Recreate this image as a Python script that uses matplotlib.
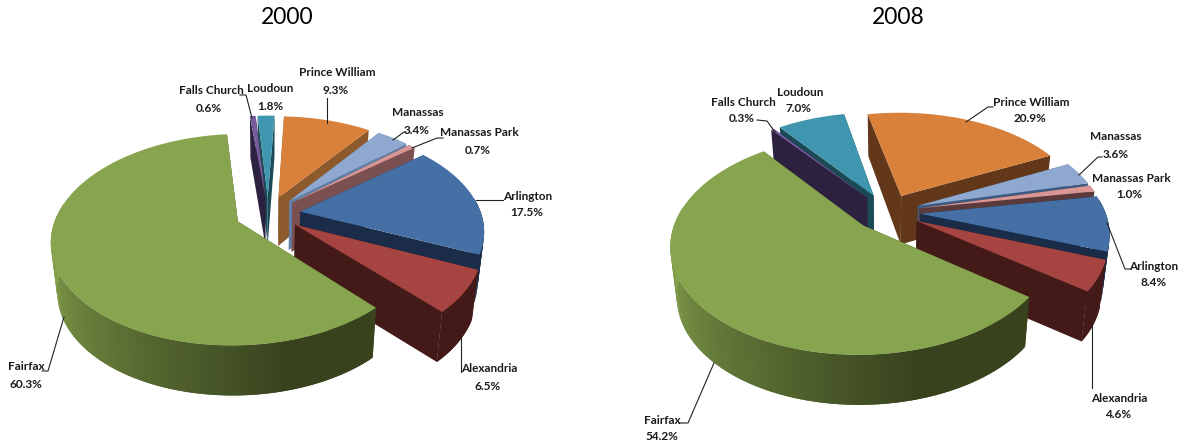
import numpy as np
import matplotlib
matplotlib.use('Agg')
import matplotlib.pyplot as plt
from matplotlib.colors import to_rgb

plt.rcParams['font.family'] = ['Lato', 'DejaVu Sans']

# drawing order: back to front
counties = ['Loudoun', 'Falls Church', 'Prince William', 'Manassas',
            'Manassas Park', 'Arlington', 'Alexandria', 'Fairfax']
share_2000 = [1.8, 0.6, 9.3, 3.4, 0.7, 17.5, 6.5, 60.3]
share_2008 = [7.0, 0.3, 20.9, 3.6, 1.0, 8.4, 4.6, 54.2]
# clockwise order round the pie, starting from Falls Church
ring = ['Falls Church', 'Loudoun', 'Prince William', 'Manassas',
        'Manassas Park', 'Arlington', 'Alexandria', 'Fairfax']

top_colors = ['#3f96ae', '#7a5a9e', '#d9803a', '#8fa8d0',
              '#d99694', '#4470a5', '#a64441', '#87a44e']
side_2000 = ['#1a4a55', '#2c2240', '#8c5a2c', '#6080a8',
             '#7a5050', '#1a2c48', '#431a18', '#38431e']
side_2008 = ['#1a4a55', '#2c2240', '#63381a', '#3d5a80',
             '#5a3a3a', '#1a2c48', '#431a18', '#38431e']

K = 0.17
DEPTH = 50.0
SHRINK = 0.97
EXPLODE = 0.18


def project(x, y, cx, cy, R, down=False):
    T = R * 0.553
    s = 1 / (1 + K * y)
    px = R * x * s
    py = -T * y * s
    if down:
        return cx + px * SHRINK, cy + py + DEPTH * np.minimum(s, 1)
    return cx + px, cy + py


def draw_pie(ax, shares, sides, cx, cy, R, start):
    spans = {n: shares[counties.index(n)] * 3.6 for n in ring}
    a = start
    for name in ring:
        spans[name] = (a, a + spans[name])
        a = spans[name][1]
    for name, top, side in zip(counties, top_colors, sides):
        t0, t1 = spans[name]
        mid = np.radians((t0 + t1) / 2)
        ox = EXPLODE * np.sin(mid)
        oy = EXPLODE * np.cos(mid)
        th = np.radians(np.arange(t0, t1, 1.0))
        th = np.append(th, np.radians(t1))
        xs = ox + np.sin(th)
        ys = oy + np.cos(th)
        # cut faces
        for i in (0, -1):
            ax0, ay0 = project(ox, oy, cx, cy, R)
            bx0, by0 = project(xs[i], ys[i], cx, cy, R)
            bx1, by1 = project(xs[i], ys[i], cx, cy, R, True)
            ax1, ay1 = project(ox, oy, cx, cy, R, True)
            ax.fill([ax0, bx0, bx1, ax1], [ay0, by0, by1, ay1], color=side, lw=0)
        # outer wall, only the part that faces the viewer
        tx, ty = project(xs, ys, cx, cy, R)
        bx, by = project(xs, ys, cx, cy, R, True)
        light = np.array(to_rgb(top))
        dark = np.array(to_rgb(side))
        for i in range(len(th) - 1):
            if np.cos(th[i]) > 0.15:
                continue
            deg = np.degrees(th[i]) % 360
            if name == 'Fairfax':
                f = np.clip((265 - deg) / 100, 0, 1)
                c = light * (1 - f) + dark * f
            else:
                c = dark
            j = min(i + 2, len(th) - 1)  # overlap the next strip, no seams
            ax.fill(np.r_[tx[i:j + 1], bx[i:j + 1][::-1]],
                    np.r_[ty[i:j + 1], by[i:j + 1][::-1]],
                    color=tuple(c), lw=0)
        # top face
        ox0, oy0 = project(ox, oy, cx, cy, R)
        ax.fill(np.r_[ox0, tx], np.r_[oy0, ty], color=top, lw=0)


fig = plt.figure(figsize=(11.83, 4.46), dpi=100)
ax = fig.add_axes([0, 0, 1, 1])
ax.set_xlim(0, 1183)
ax.set_ylim(446, 0)
ax.axis('off')

draw_pie(ax, share_2000, side_2000, 268, 214, 181, 354.0)
draw_pie(ax, share_2008, side_2008, 887, 212, 185, 322.0)

ax.text(287, 18, '2000', fontsize=16.5, ha='center', va='center')
ax.text(898, 18, '2008', fontsize=16.5, ha='center', va='center')

labels = [
    ('Falls Church', '0.6%', 211, 91, 209, [(240, 95), (246, 95), (252, 118)]),
    ('Loudoun', '1.8%', 270, 89, 270, None),
    ('Prince William', '9.3%', 337, 73, 336, [(327, 98), (327, 123)]),
    ('Manassas', '3.4%', 418, 113, 417, [(393, 140), (404, 132), (406, 132)]),
    ('Manassas Park', '0.7%', 479, 133, 478, [(412, 148), (437, 138), (443, 138)]),
    ('Arlington', '17.5%', 528, 196, 527, [(476, 200), (503, 200)]),
    ('Alexandria', '6.5%', 489, 369, 488, [(461, 338), (461, 372)]),
    ('Fairfax', '60.3%', 26, 367, 26, [(64, 317), (48, 371), (42, 371)]),
    ('Falls Church', '0.3%', 743, 102, 742, [(757, 120), (767, 121), (775, 132)]),
    ('Loudoun', '7.0%', 800, 92, 799, None),
    ('Prince William', '20.9%', 1031, 102, 1030, [(966, 122), (988, 107), (993, 107)]),
    ('Manassas', '3.6%', 1116, 137, 1116, [(1079, 175), (1098, 157), (1102, 157)]),
    ('Manassas Park', '1.0%', 1131, 178, 1129, None),
    ('Arlington', '8.4%', 1154, 266, 1154, [(1107, 223), (1125, 269), (1130, 269)]),
    ('Alexandria', '4.6%', 1119, 398, 1118, [(1092, 323), (1092, 388)]),
    ('Fairfax', '54.2%', 662, 420, 662, [(714, 363), (688, 423), (679, 423)]),
]
for name, pct, x, y, x2, leader in labels:
    ax.text(x, y, name, fontsize=8.5, fontweight='bold', ha='center', va='center', color='#1a1a1a')
    ax.text(x2, y + 17, pct, fontsize=8.5, fontweight='bold', ha='center', va='center', color='#1a1a1a')
    if leader:
        ax.plot(*zip(*leader), color='#222222', lw=0.8)

fig.savefig('out.png', dpi=100)
